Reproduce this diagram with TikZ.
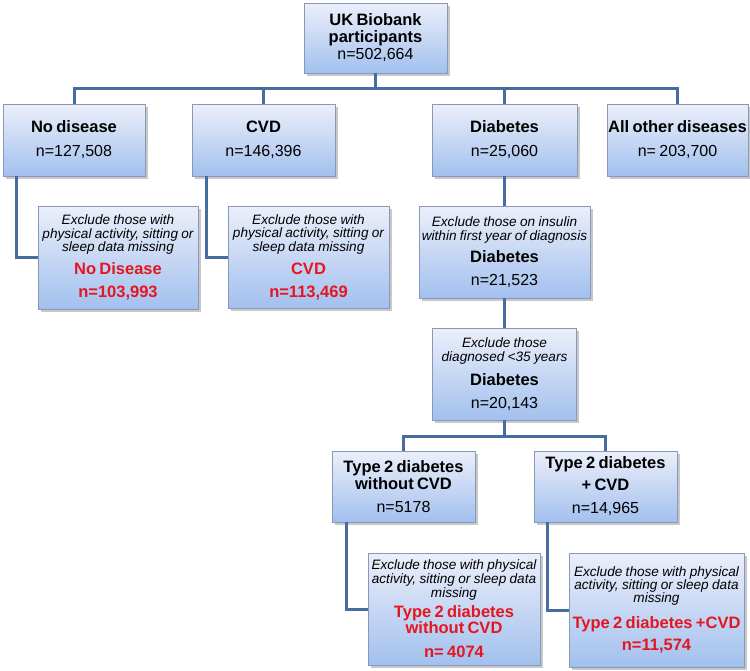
\documentclass[tikz,border=0pt]{standalone}
\usepackage{fontspec}
\setmainfont{Liberation Sans}
\usetikzlibrary{shadows}
\definecolor{lineblue}{RGB}{70,108,160}
\definecolor{boxtop}{RGB}{236,239,250}
\definecolor{boxbot}{RGB}{162,192,238}
\definecolor{boxedge}{RGB}{135,152,185}
\definecolor{redtxt}{RGB}{228,22,32}
\newcommand\exc[1]{\fontsize{13.6}{#1}\selectfont\itshape}
\newcommand\tb[1]{\fontsize{16.5}{#1}\selectfont\bfseries\upshape}
\newcommand\nr[1]{\fontsize{16}{#1}\selectfont\mdseries\upshape}
\newcommand\rdb[1]{\fontsize{16.5}{#1}\selectfont\bfseries\upshape\color{redtxt}}
\tikzset{
  box/.style={draw=boxedge, line width=0.8pt, top color=boxtop, bottom color=boxbot,
    align=center, inner xsep=0pt, inner ysep=0pt,
    drop shadow={shadow xshift=2.5pt, shadow yshift=-2.5pt, opacity=0.3, fill=black!70}},
  conn/.style={draw=lineblue, line width=3pt},
}
\begin{document}
\begin{tikzpicture}[x=1pt,y=-1pt]
\fill[white] (0,0) rectangle (750,670);
\useasboundingbox (0,0) rectangle (750,670);

% level 0
\node[box, text width=143pt, minimum height=70pt] (top) at (375.5,38)
  {\tb{17}UK Biobank\\participants\par\nr{17}n=502,664\par};

% level 1
\node[box, text width=142pt, minimum height=72pt] (nodis) at (74,140)
  {\tb{19}No disease\par\nr{24}n=127,508\par};
\node[box, text width=143pt, minimum height=72pt] (cvd) at (263.5,140)
  {\tb{19}CVD\par\nr{24}n=146,396\par};
\node[box, text width=145pt, minimum height=72pt] (diab) at (504.5,140)
  {\tb{19}Diabetes\par\nr{24}n=25,060\par};
\node[box, text width=141pt, minimum height=72pt] (other) at (677.5,140)
  {\tb{19}All other diseases\par\nr{24}n= 203,700\par};

% level 2
\node[box, text width=160pt, minimum height=103pt] (ex1) at (118,257.5)
  {\exc{13.5}Exclude those with\\physical activity, sitting or\\sleep data missing\par
   \rdb{23.2}No Disease\par\rdb{23}n=103,993\par};
\node[box, text width=161pt, minimum height=102pt] (ex2) at (308.5,257)
  {\exc{13.5}Exclude those with\\physical activity, sitting or\\sleep data missing\par
   \rdb{23.2}CVD\par\rdb{23}n=113,469\par};
\node[box, text width=171pt, minimum height=92pt] (ex3) at (504.5,252)
  {\exc{14.5}Exclude those on insulin\\within first year of diagnosis\par
   \tb{22}Diabetes\par\nr{22.4}n=21,523\par};

% level 3
\node[box, text width=144pt, minimum height=92pt] (d35) at (504.5,374)
  {\exc{14.5}Exclude those\\diagnosed <35 years\par
   \tb{23.3}Diabetes\par\nr{23.3}n=20,143\par};

% level 4
\node[box, text width=143pt, minimum height=71pt] (t2n) at (403.5,486.5)
  {\tb{17}Type 2 diabetes\par\tb{17}without CVD\par\nr{23.4}n=5178\par};
\node[box, text width=143pt, minimum height=71pt] (t2c) at (605.5,486.5)
  {\tb{17}Type 2 diabetes\par\tb{21.7}+ CVD\par\nr{23.3}n=14,965\par};

% level 5
\node[box, text width=172pt, minimum height=112pt] (ex4) at (454,609)
  {\exc{12.5}Exclude those with physical\\activity, sitting or sleep data\\missing\par
   \rdb{20.3}Type 2 diabetes\par\rdb{15}without CVD\par\rdb{24}n= 4074\par};
\node[box, text width=175pt, minimum height=114pt] (ex5) at (656.5,610)
  {\exc{12.8}Exclude those with physical\\activity, sitting or sleep data\\missing\par
   \rdb{26}Type 2 diabetes +CVD\par\rdb{22.4}n=11,574\par};

% connectors
\coordinate (bar1) at (375.5,88);
\draw[conn] (top.south) -- (bar1);
\draw[conn] (nodis.north) |- (bar1) -| (other.north);
\draw[conn] (cvd.north) -- (cvd.north |- bar1);
\draw[conn] (diab.north) -- (diab.north |- bar1);

\draw[conn] ([xshift=-58pt]nodis.south) |- (ex1.west);
\draw[conn] ([xshift=-57.5pt]cvd.south) |- (ex2.west);
\draw[conn] (diab.south) -- (ex3.north);
\draw[conn] (ex3.south) -- (d35.north);

\coordinate (bar2) at (504.5,436);
\draw[conn] (d35.south) -- (bar2);
\draw[conn] (t2n.north) |- (bar2) -| (t2c.north);

\draw[conn] ([xshift=-57.5pt]t2n.south) |- (ex4.west);
\draw[conn] ([xshift=-58.5pt]t2c.south) |- (ex5.west);
\end{tikzpicture}
\end{document}
